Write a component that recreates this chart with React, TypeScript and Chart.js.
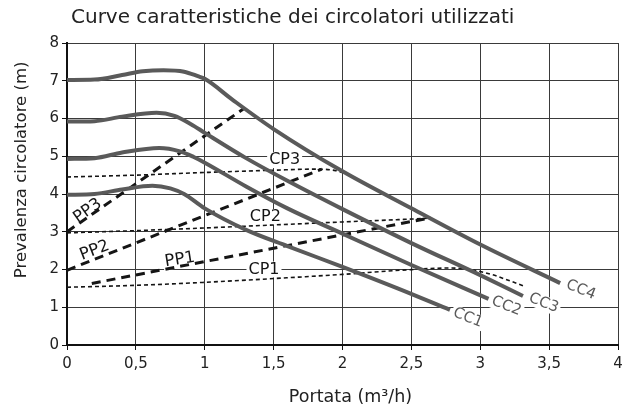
import { useEffect, useRef } from 'react';
import { Chart, registerables } from 'chart.js';

Chart.register(...registerables);

const TITLE = 'Curve caratteristiche dei circolatori utilizzati';
const X_TITLE = 'Portata (m³/h)';
const Y_TITLE = 'Prevalenza circolatore (m)';

// Pump characteristic curves (x = m³/h, y = m)
const CC1 = [[0, 3.98], [0.2, 4.0], [0.4, 4.12], [0.62, 4.22], [0.75, 4.15], [0.85, 4.0], [1.0, 3.62], [1.3, 3.05], [1.6, 2.62], [2.0, 2.07], [2.4, 1.5], [2.78, 0.93]];
const CC2 = [[0, 4.93], [0.2, 4.95], [0.4, 5.1], [0.67, 5.22], [0.82, 5.13], [0.92, 4.98], [1.0, 4.83], [1.3, 4.2], [1.6, 3.62], [2.0, 2.95], [2.5, 2.12], [3.06, 1.22]];
const CC3 = [[0, 5.92], [0.2, 5.93], [0.4, 6.05], [0.65, 6.15], [0.78, 6.07], [0.9, 5.85], [1.0, 5.62], [1.3, 4.95], [1.6, 4.35], [2.0, 3.6], [2.5, 2.7], [3.0, 1.85], [3.31, 1.3]];
const CC4 = [[0, 7.02], [0.2, 7.03], [0.4, 7.15], [0.55, 7.25], [0.7, 7.28], [0.85, 7.24], [0.95, 7.12], [1.0, 7.05], [1.2, 6.5], [1.5, 5.72], [2.0, 4.6], [2.5, 3.62], [3.0, 2.66], [3.58, 1.64]];

// Plant curves (dashed)
const PP1 = [[0.18, 1.63], [2.64, 3.37]];
const PP2 = [[0, 1.98], [1.85, 4.66]];
const PP3 = [[0, 3.0], [1.29, 6.28]];

// Working point curves (dotted)
const CP1 = [[0, 1.53], [0.5, 1.58], [1.0, 1.66], [1.5, 1.76], [2.0, 1.87], [2.42, 1.98], [2.79, 2.04], [3.03, 1.92], [3.32, 1.56]];
const CP2 = [[0, 2.97], [0.5, 3.03], [1.0, 3.1], [1.5, 3.18], [2.0, 3.26], [2.4, 3.32], [2.64, 3.36]];
const CP3 = [[0, 4.45], [0.5, 4.5], [1.0, 4.57], [1.5, 4.63], [1.8, 4.66], [1.95, 4.62], [2.05, 4.5]];

// Curve labels: text and anchor (data units)
const LABEL_TEXT = ['CC1', 'CC2', 'CC3', 'CC4', 'CP1', 'CP2', 'CP3', 'PP1', 'PP2', 'PP3'];
const LABEL_X = [2.91, 3.19, 3.46, 3.73, 1.43, 1.44, 1.58, 0.82, 0.2, 0.15];
const LABEL_Y = [0.72, 1.03, 1.11, 1.46, 2.0, 3.39, 4.9, 2.26, 2.5, 3.55];

const GREY = '#5a5a5a';
const INK = '#151515';
const FONT = '"DejaVu Sans", sans-serif';
const LABEL_ANGLE = [22, 22, 22, 22, 0, 0, 0, -9, -21, -35];
const LABEL_SIZE = [15, 15, 15, 15, 16, 16, 16, 16.5, 16.5, 16.5];

const toPts = (arr: number[][]) => arr.map(([x, y]) => ({ x, y }));
const fmt = (v: number) => String(v).replace('.', ',');

function drawLabels(chart: any, bg: boolean) {
  const { ctx, scales } = chart;
  const xs = scales.x;
  const ys = scales.y;
  LABEL_TEXT.forEach((t, i) => {
    const px = xs.getPixelForValue(LABEL_X[i]);
    const py = ys.getPixelForValue(LABEL_Y[i]);
    const size = LABEL_SIZE[i];
    ctx.save();
    ctx.translate(px, py);
    ctx.rotate((LABEL_ANGLE[i] * Math.PI) / 180);
    ctx.font = `${size}px ${FONT}`;
    ctx.textAlign = 'center';
    ctx.textBaseline = 'middle';
    if (bg) {
      const w = ctx.measureText(t).width;
      ctx.fillStyle = '#ffffff';
      ctx.fillRect(-w / 2 - 2, -size * 0.5, w + 4, size * 1.0);
    } else {
      ctx.fillStyle = i < 4 ? GREY : INK;
      ctx.fillText(t, 0, 0);
    }
    ctx.restore();
  });
}

const labelPlugin = {
  id: 'curveLabels',
  beforeDatasetsDraw(chart: any) {
    drawLabels(chart, true);
  },
  afterDatasetsDraw(chart: any) {
    drawLabels(chart, false);
  },
  afterDraw(chart: any) {
    const { ctx, chartArea } = chart;
    ctx.save();
    ctx.fillStyle = '#222';
    // main title
    ctx.font = `20px ${FONT}`;
    ctx.textAlign = 'left';
    ctx.textBaseline = 'alphabetic';
    ctx.fillText(TITLE, chartArea.left + 4, 23);
    // x axis title
    ctx.font = `17.5px ${FONT}`;
    ctx.textAlign = 'center';
    ctx.fillText(X_TITLE, (chartArea.left + chartArea.right) / 2 + 8, 402);
    // y axis title
    ctx.font = `16.5px ${FONT}`;
    ctx.translate(26, chartArea.top + (chartArea.bottom - chartArea.top) * 0.42);
    ctx.rotate(-Math.PI / 2);
    ctx.fillText(Y_TITLE, 0, 0);
    ctx.restore();
  },
};

export default function App() {
  const ref = useRef<HTMLCanvasElement | null>(null);

  useEffect(() => {
    if (!ref.current) return;
    const cc = (data: number[][]) => ({
      data: toPts(data),
      borderColor: GREY,
      borderWidth: 4,
      pointRadius: 0,
      cubicInterpolationMode: 'monotone' as const,
      fill: false,
    });
    const pp = (data: number[][]) => ({
      data: toPts(data),
      borderColor: INK,
      borderWidth: 3,
      borderDash: [9, 6],
      pointRadius: 0,
      fill: false,
    });
    const cp = (data: number[][]) => ({
      data: toPts(data),
      borderColor: INK,
      borderWidth: 1.6,
      borderDash: [4, 3],
      pointRadius: 0,
      cubicInterpolationMode: 'monotone' as const,
      fill: false,
    });
    const chart = new Chart(ref.current, {
      type: 'line',
      data: {
        datasets: [
          { label: 'CC1', ...cc(CC1) },
          { label: 'CC2', ...cc(CC2) },
          { label: 'CC3', ...cc(CC3) },
          { label: 'CC4', ...cc(CC4) },
          { label: 'PP1', ...pp(PP1) },
          { label: 'PP2', ...pp(PP2) },
          { label: 'PP3', ...pp(PP3) },
          { label: 'CP1', ...cp(CP1) },
          { label: 'CP2', ...cp(CP2) },
          { label: 'CP3', ...cp(CP3) },
        ],
      },
      options: {
        animation: false,
        responsive: false,
        maintainAspectRatio: false,
        layout: { padding: { top: 43, right: 6, left: 0, bottom: 0 } },
        plugins: {
          legend: { display: false },
          title: { display: false },
          tooltip: { enabled: false },
        },
        scales: {
          x: {
            type: 'linear',
            min: 0,
            max: 4,
            ticks: {
              stepSize: 0.5,
              color: '#222',
              font: { family: FONT, size: 15 },
              padding: 5,
              maxRotation: 0,
              callback: (v: any) => fmt(Number(v)),
            },
            grid: { color: '#3a3a3a', lineWidth: 1, tickLength: 5, tickColor: '#111' },
            border: { display: true, color: '#111', width: 2 },
            afterFit: (s: any) => {
              s.height = 65;
              s.paddingRight = 0;
              s.paddingLeft = 0;
            },
          },
          y: {
            type: 'linear',
            min: 0,
            max: 8,
            ticks: {
              stepSize: 1,
              color: '#222',
              font: { family: FONT, size: 15 },
              padding: 3,
            },
            grid: { color: '#3a3a3a', lineWidth: 1, tickLength: 5, tickColor: '#111' },
            border: { display: true, color: '#111', width: 2 },
            afterFit: (s: any) => {
              s.width = 67;
            },
          },
        },
      },
      plugins: [labelPlugin],
    });
    return () => chart.destroy();
  }, []);

  return (
    <div style={{ position: 'absolute', left: 0, top: 0, width: 624, height: 410, background: '#fff' }}>
      <canvas ref={ref} width={624} height={410} style={{ display: 'block', width: 624, height: 410 }} />
    </div>
  );
}
